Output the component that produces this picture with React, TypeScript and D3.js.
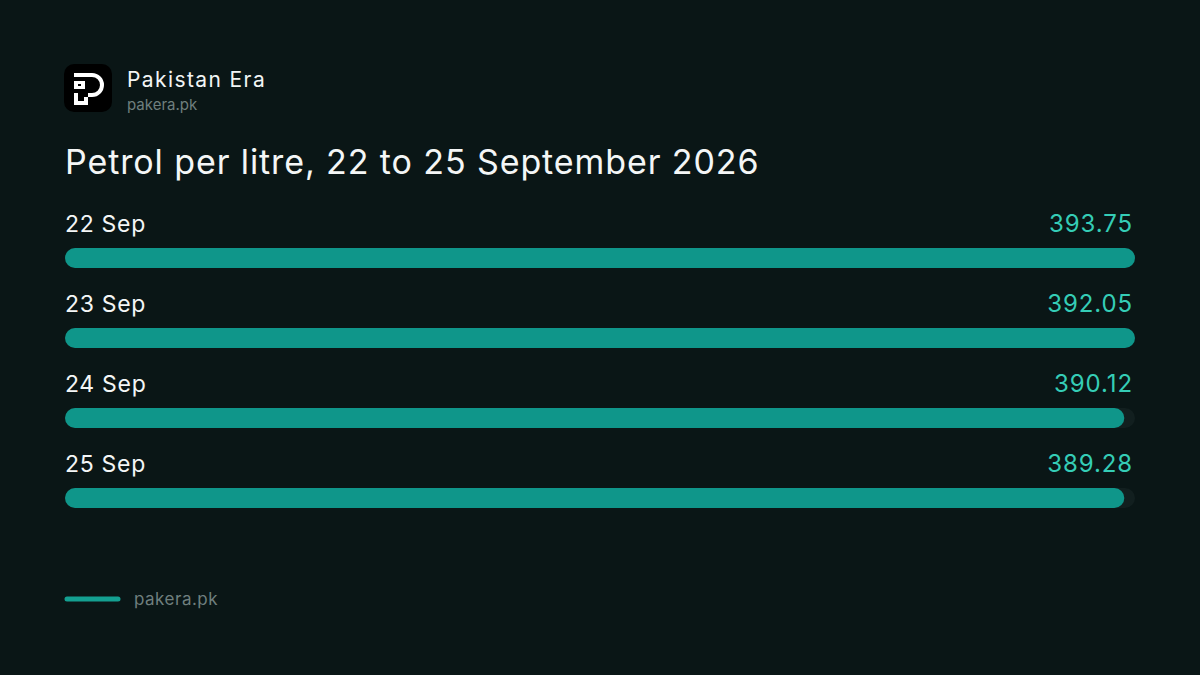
import { useEffect, useRef } from "react";
import * as d3 from "d3";

const days = ["22 Sep", "23 Sep", "24 Sep", "25 Sep"];
const prices = [393.75, 392.05, 390.12, 389.28];
const valueLabels = ["393.75", "392.05", "390.12", "389.28"];

const width = 1200;
const height = 675;
const marginLeft = 65;
const marginRight = 65;
const barTop = 248;
const rowStep = 80;
const barHeight = 20;
const font = "Inter, 'Noto Sans', sans-serif";

export default function App() {
  const chart = useRef(null);

  useEffect(() => {
    const svg = d3.select(chart.current);
    svg.selectAll("*").remove();

    svg.append("rect").attr("width", width).attr("height", height).attr("fill", "#0a1616");

    // logo
    const logo = svg.append("g").attr("transform", "translate(64,64)");
    logo.append("rect").attr("width", 48).attr("height", 48).attr("rx", 10).attr("fill", "#000");
    logo.append("path")
      .attr("d", "M10,9 H28 A12,12 0 0 1 28,33 H24 V29 H28 A8,8 0 0 0 28,13 H10 Z")
      .attr("fill", "#fff");
    logo.append("path")
      .attr("d", "M10,17 H21 V25 H10 Z M14,20 V22 H17 V20 Z")
      .attr("fill", "#fff").attr("fill-rule", "evenodd");
    logo.append("path")
      .attr("d", "M10,29 H14 V37 H20 V33 H24 V41 H10 Z")
      .attr("fill", "#fff");

    svg.append("text").attr("x", 127).attr("y", 87)
      .attr("fill", "#f2f5f5").attr("font-size", 21).attr("letter-spacing", 1.4)
      .attr("font-family", font).text("Pakistan Era");
    svg.append("text").attr("x", 127).attr("y", 110)
      .attr("fill", "#6f7f7e").attr("font-size", 15)
      .attr("font-family", font).text("pakera.pk");

    svg.append("text").attr("x", 65).attr("y", 174)
      .attr("fill", "#f4f6f6").attr("font-size", 34).attr("letter-spacing", 0.9)
      .attr("font-family", font).text("Petrol per litre, 22 to 25 September 2026");

    const x = d3.scaleLinear()
      .domain([0, 100])
      .range([0, width - marginLeft - marginRight]);

    const y = d3.scalePoint()
      .domain(days)
      .range([barTop, barTop + rowStep * (days.length - 1)]);

    const max = d3.max(prices);

    const rows = svg.append("g").selectAll("g")
      .data(days)
      .join("g")
      .attr("transform", d => `translate(${marginLeft},${y(d)})`);

    rows.append("rect")
      .attr("width", x(100)).attr("height", barHeight).attr("rx", barHeight / 2)
      .attr("fill", "#121f1f");

    rows.append("rect")
      .attr("width", (d, i) => x(Math.round(prices[i] / max * 100)))
      .attr("height", barHeight).attr("rx", barHeight / 2)
      .attr("fill", "#0f968a");

    rows.append("text")
      .attr("x", 0).attr("y", -16)
      .attr("fill", "#f4f6f6").attr("font-size", 23).attr("letter-spacing", 0.7)
      .attr("font-family", font).text(d => d);

    rows.append("text")
      .attr("x", x(100) - 2).attr("y", -16)
      .attr("text-anchor", "end")
      .attr("fill", "#35cdb6").attr("font-size", 24).attr("letter-spacing", 0.9)
      .attr("font-family", font).text((d, i) => valueLabels[i]);

    // footer
    svg.append("line")
      .attr("x1", 67).attr("x2", 118).attr("y1", 599).attr("y2", 599)
      .attr("stroke", "#14a091").attr("stroke-width", 5).attr("stroke-linecap", "round");
    svg.append("text").attr("x", 134).attr("y", 605)
      .attr("fill", "#6f7f7e").attr("font-size", 17).attr("letter-spacing", 0.5)
      .attr("font-family", font).text("pakera.pk");
  }, []);

  return (
    <svg ref={chart} width={width} height={height}
      style={{ position: "absolute", left: 0, top: 0, display: "block" }} />
  );
}
